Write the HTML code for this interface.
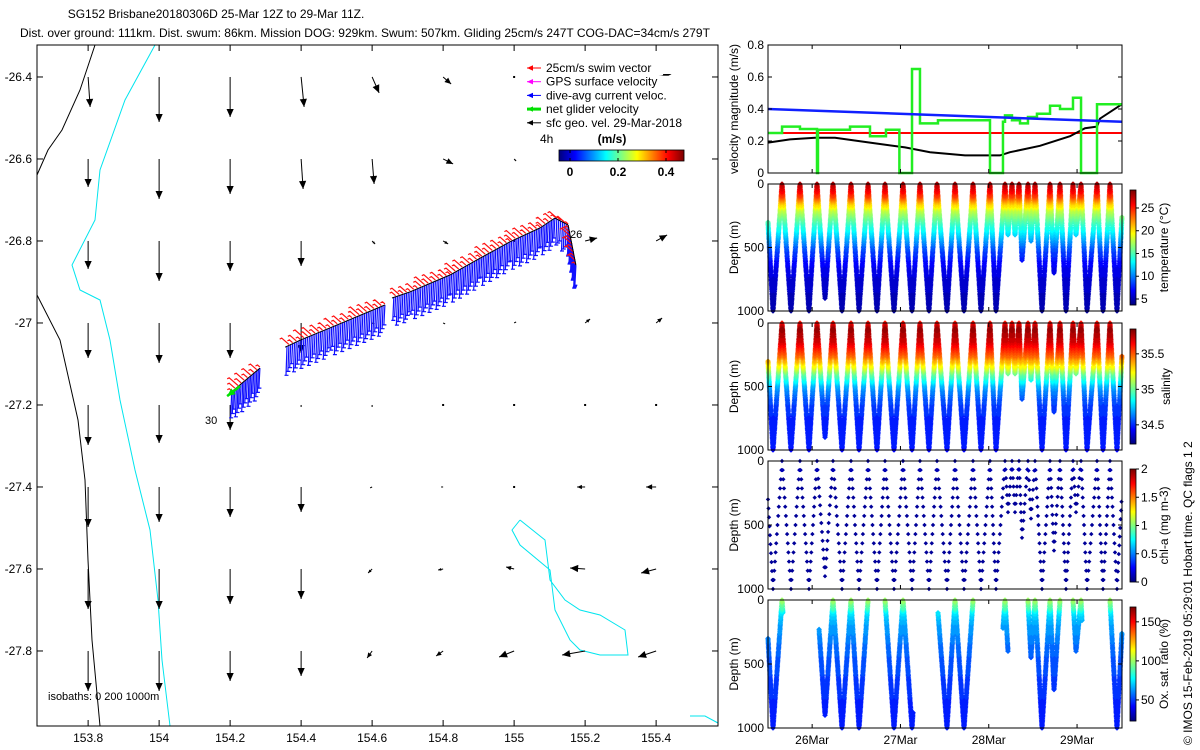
<!DOCTYPE html>
<html><head><meta charset="utf-8"><style>
html,body{margin:0;padding:0;background:#fff}
svg{display:block;font-family:"Liberation Sans",sans-serif}
</style></head><body>
<svg id="fig" width="1200" height="750" viewBox="0 0 1200 750" xmlns="http://www.w3.org/2000/svg">
<rect width="1200" height="750" fill="#fff"/>
<text x="216" y="18" font-size="12" text-anchor="middle">SG152 Brisbane20180306D 25-Mar 12Z to 29-Mar 11Z.</text>
<text x="20" y="37" font-size="12">Dist. over ground: 111km. Dist. swum: 86km. Mission DOG: 929km. Swum: 507km. Gliding 25cm/s 247T COG-DAC=34cm/s 279T</text>
<g id="map"></g>
<g id="vel"></g>
<g id="temp"></g>
<g id="sal"></g>
<g id="chl"></g>
<g id="oxy"></g>
<text transform="translate(1192,745) rotate(-90)" font-size="12">© IMOS 15-Feb-2019 05:29:01  Hobart time. QC flags 1  2</text>
</svg>
<script>
// ===== DATA =====
const mapLonTicks=[153.8,154,154.2,154.4,154.6,154.8,155,155.2,155.4];
const mapLatTicks=[-26.4,-26.6,-26.8,-27,-27.2,-27.4,-27.6,-27.8];
const geoLons=[153.8,154.0,154.2,154.4,154.6,154.8,155.0,155.2,155.4];
const geoLats=[-26.4,-26.6,-26.8,-27.0,-27.2,-27.4,-27.6,-27.8];
const geoU=[[0.02,0.00,0.00,0.03,0.07,0.08,0.0,0.0,0.15],
[0.0,0.0,0.0,0.02,0.02,0.1,0.02,0.0,0.0],
[0.0,0.0,0.0,0.0,0.03,0.05,0.0,0.12,0.11],
[0.0,0.0,0.0,0.0,0.02,0.02,0.02,0.05,0.06],
[0.0,0.0,0.0,0.0,0.0,0.0,0.0,0.0,0.0],
[0.0,0.0,0.0,0.0,-0.02,-0.02,0.0,-0.08,-0.10],
[0.0,0.0,0.0,0.0,-0.04,-0.05,-0.08,-0.15,-0.15],
[0.0,0.0,0.0,0.0,-0.05,-0.07,-0.15,-0.23,-0.18]];
const geoV=[[-0.3,-0.45,-0.4,-0.3,-0.16,-0.07,0.0,0.0,0.03],
[-0.28,-0.4,-0.35,-0.3,-0.25,-0.05,-0.02,0.0,0.0],
[-0.28,-0.4,-0.3,-0.25,-0.03,-0.03,0.0,0.03,0.06],
[-0.35,-0.4,-0.35,-0.3,-0.01,-0.01,0.01,0.04,0.05],
[-0.4,-0.38,-0.25,-0.02,-0.02,-0.01,0.0,0.0,0.0],
[-0.4,-0.35,-0.3,-0.25,-0.01,0.0,0.0,0.0,0.0],
[-0.4,-0.4,-0.35,-0.3,-0.04,-0.01,0.02,0.01,-0.04],
[-0.4,-0.4,-0.3,-0.25,-0.07,-0.05,-0.06,-0.04,-0.06]];
const trackLon=[155.174,155.152,155.115,155.073,154.988,154.904,154.819,154.707,154.656,154.636,154.481,154.397,154.355,154.284,154.200];
const trackLat=[-26.859,-26.761,-26.744,-26.768,-26.802,-26.842,-26.883,-26.924,-26.939,-26.956,-27.012,-27.042,-27.059,-27.110,-27.171];
const trackGap=[0,0,0,0,0,0,0,0,1,0,0,0,1,0];
const coastX=[95,80,62,48,37];const coastY=[45,90,130,150,175];
const coast2X=[37,60,78,85,88,92,100];const coast2Y=[295,340,420,480,560,640,726];
const iso200X=[155,125,100,95,72,80,100,110,120,135,150,158,162,170];
const iso200Y=[45,100,170,220,265,290,300,340,400,470,530,600,660,726];
const isoLoopX=[520,545,550,565,580,600,625,628,600,580,570,555,550,520,512,520];
const isoLoopY=[520,540,580,600,610,615,630,655,655,650,640,610,570,545,530,520];

const dayTicks=[26,27,28,29];const dayLabels=["26Mar","27Mar","28Mar","29Mar"];
const velTicks=[0,0.2,0.4,0.6,0.8];
const velBlueT=[25.5,29.51];const velBlueV=[0.40,0.32];
const velRedT=[25.5,29.51];const velRedV=[0.25,0.25];
const velBlackT=[25.5,25.749,26.032,26.259,26.655,27.052,27.335,27.731,28.127,28.241,28.580,28.920,29.090,29.226,29.260,29.509];
const velBlackV=[0.19,0.21,0.22,0.22,0.19,0.16,0.13,0.11,0.11,0.13,0.17,0.23,0.28,0.29,0.34,0.43];
const velGreenT=[25.5,25.659,25.862,26.055,26.066,26.236,26.429,26.655,26.836,26.988,27.0,27.131,27.221,27.425,28.014,28.161,28.184,28.263,28.354,28.444,28.546,28.694,28.807,28.954,29.045,29.226,29.509];
const velGreenV=[0.25,0.29,0.275,0.0,0.27,0.27,0.29,0.23,0.27,0.0,0.0,0.65,0.31,0.33,0.0,0.32,0.36,0.33,0.31,0.35,0.37,0.42,0.40,0.47,0.0,0.43,0.43];

const diveT=[25.5,25.557,25.659,25.760,25.862,25.964,26.055,26.146,26.236,26.338,26.440,26.531,26.633,26.734,26.825,26.927,27.029,27.131,27.221,27.323,27.414,27.527,27.618,27.720,27.822,27.912,28.014,28.082,28.184,28.218,28.263,28.297,28.343,28.377,28.444,28.478,28.524,28.603,28.694,28.739,28.807,28.875,28.954,28.988,29.045,29.113,29.226,29.294,29.373,29.452,29.509];
const diveD=[300,1000,0,1000,0,1000,0,900,0,1000,0,1000,0,1000,0,1000,0,1000,0,1000,0,1000,0,1000,0,1000,0,1000,0,400,0,400,0,600,0,450,0,1000,0,700,0,1000,0,400,0,1000,0,1000,0,1000,250];
const profDepth=[0,50,100,150,200,250,300,350,400,500,600,700,800,1000];
const profTemp=[27.5,26,24,21,18,16.5,15,13.5,12,9,7,6,5.5,4.5];
const profSal=[35.6,35.8,35.75,35.7,35.6,35.5,35.35,35.2,35.0,34.7,34.55,34.5,34.47,34.45];
const profOxy=[100,90,75,68,64,62,60,57,55,52,50,48,46,44];
const oxyStart=[25.5,26.078,26.825,27.425,28.161,28.444,28.954,29.373];
const oxyEnd=[25.67,26.633,27.142,27.822,28.218,28.807,29.056,29.509];

// ===== helpers =====
const NS="http://www.w3.org/2000/svg";
function mk(tag,parent,attrs){const e=document.createElementNS(NS,tag);for(const k in attrs)e.setAttribute(k,attrs[k]);parent.appendChild(e);return e;}
function jet(f){f=Math.max(0,Math.min(1,f));
 const r=Math.max(0,Math.min(1,1.5-Math.abs(4*f-3))),g=Math.max(0,Math.min(1,1.5-Math.abs(4*f-2))),b=Math.max(0,Math.min(1,1.5-Math.abs(4*f-1)));
 return `rgb(${Math.round(r*255)},${Math.round(g*255)},${Math.round(b*255)})`;}
function interp(xs,ys,x){if(x<=xs[0])return ys[0];for(let i=1;i<xs.length;i++){if(x<=xs[i]){const f=(x-xs[i-1])/(xs[i]-xs[i-1]);return ys[i-1]+f*(ys[i]-ys[i-1]);}}return ys[ys.length-1];}

// ===== MAP =====
const map=document.getElementById('map');
const MX0=37,MY0=45,MW=681,MH=681;
const mx=lon=>37+(lon-153.656)*355;
const my=lat=>45+(-26.322-lat)*410;
let e;
e=mk('polyline',map,{points:coastX.map((x,i)=>x+','+coastY[i]).join(' '),fill:'none',stroke:'#000','stroke-width':1});


e=mk('polyline',map,{points:coast2X.map((x,i)=>x+','+coast2Y[i]).join(' '),fill:'none',stroke:'#000','stroke-width':1});


e=mk('polyline',map,{points:iso200X.map((x,i)=>x+','+iso200Y[i]).join(' '),fill:'none',stroke:'#00e5ee','stroke-width':1});


e=mk('polyline',map,{points:isoLoopX.map((x,i)=>x+','+isoLoopY[i]).join(' '),fill:'none',stroke:'#00e5ee','stroke-width':1});


e=mk('polyline',map,{points:'690,716 705,716 718,723',fill:'none',stroke:'#00e5ee','stroke-width':1});



function arrow(g,x1,y1,x2,y2,col,w,hs,name){
 const gg=mk('g',g,{});
 
 
 mk('line',gg,{x1,y1,x2,y2,stroke:col,'stroke-width':w});
 const L=Math.hypot(x2-x1,y2-y1);if(L<0.5)return;
 const ux=(x2-x1)/L,uy=(y2-y1)/L,h=Math.min(hs,L*0.6);
 const bx=x2-ux*h,by=y2-uy*h,px=-uy*h*0.45,py=ux*h*0.45;
 mk('polygon',gg,{points:`${x2},${y2} ${bx+px},${by+py} ${bx-px},${by-py}`,fill:col});
}
for(let r=0;r<geoLats.length;r++)for(let c=0;c<geoLons.length;c++){
 const x=mx(geoLons[c]),y=my(geoLats[r]);
 const dx=geoU[r][c]*100,dy=-geoV[r][c]*100;
 if(Math.hypot(dx,dy)<2){const d=mk('rect',map,{x:x-1,y:y-1,width:2,height:2,fill:'#000'});continue;}
 arrow(map,x,y,x+dx,y+dy,'#000',1,8,'geo-velocity-arrow');
}
// track
const trk=mk('g',map,{});


let blueP='',redP='',blackP='';
for(let i=0;i<trackLon.length-1;i++){
 const x1=mx(trackLon[i]),y1=my(trackLat[i]),x2=mx(trackLon[i+1]),y2=my(trackLat[i+1]);
 if(trackGap[i]){continue;}
 blackP+=`M${x1},${y1}L${x2},${y2}`;
 const L=Math.hypot(x2-x1,y2-y1),n=Math.max(1,Math.round(L/2));
 for(let k=0;k<n;k++){const f=k/n,x=x1+f*(x2-x1),y=y1+f*(y2-y1);
  const bl=20+(k%4)*3;
  blueP+=`M${x.toFixed(1)},${y.toFixed(1)}l-1,${bl}`;
  blueP+=`M${(x-2.5).toFixed(1)},${(y+bl).toFixed(1)}h4`;
  if(k%2==0){const rl=3+((k*7)%9);
  redP+=`M${x.toFixed(1)},${(y-1).toFixed(1)}l${(-rl*0.8).toFixed(1)},${(-rl*0.7).toFixed(1)}l-2,1`;}}
}
e=mk('path',trk,{d:blueP,stroke:'#1010ff','stroke-width':1.2,fill:'none'});


e=mk('path',trk,{d:redP,stroke:'#ff1010','stroke-width':1.2,fill:'none'});


e=mk('path',trk,{d:blackP,stroke:'#000','stroke-width':1,fill:'none'});


arrow(trk,mx(trackLon[trackLon.length-1])+10,my(trackLat[trackLat.length-1])-7,mx(trackLon[trackLon.length-1])-3,my(trackLat[trackLat.length-1])+3,'#00e000',2.5,8,'net-glider-velocity-arrow');
e=mk('text',map,{x:570,y:238,'font-size':11});e.textContent='26';


e=mk('text',map,{x:205,y:424,'font-size':11});e.textContent='30';


e=mk('text',map,{x:48,y:700,'font-size':11});e.textContent='isobaths: 0   200   1000m';


// legend
const legC=['#ff0000','#ff00ff','#0000ff','#00e000','#000'];
const legT=['25cm/s swim vector','GPS surface velocity','dive-avg current veloc.','net glider velocity','sfc geo. vel. 29-Mar-2018'];
for(let i=0;i<5;i++){const y=68+i*13.7;
 const g=mk('g',map,{});
 mk('rect',g,{x:526,y:y-6,width:180,height:12,fill:'#fff'});
 arrow(g,541,y,527,y,legC[i],i==3?3:1,6,'legend-arrow');
 const t=mk('text',g,{x:546,y:y+4,'font-size':12});t.textContent=legT[i];}
e=mk('text',map,{x:540,y:143,'font-size':12});e.textContent='4h';


e=mk('text',map,{x:612,y:143,'font-size':12,'font-weight':'bold','text-anchor':'middle'});e.textContent='(m/s)';


const lcb=mk('g',map,{});
for(let i=0;i<125;i++)mk('rect',lcb,{x:559+i,y:150,width:1.2,height:11,fill:jet(i/124)});
mk('rect',lcb,{x:559,y:150,width:125,height:11,fill:'none',stroke:'#000','stroke-width':0.8});
[['0',570],['0.2',618],['0.4',666]].forEach(([s,x])=>{const t=mk('text',lcb,{x,y:176,'font-size':12,'font-weight':'bold','text-anchor':'middle'});t.textContent=s;mk('line',lcb,{x1:x,y1:150,x2:x,y2:153,stroke:'#000'});mk('line',lcb,{x1:x,y1:161,x2:x,y2:158,stroke:'#000'});});
e=mk('rect',map,{x:MX0,y:MY0,width:MW,height:MH,fill:'none',stroke:'#000','stroke-width':1});


mapLonTicks.forEach(v=>{const x=mx(v);mk('line',map,{x1:x,y1:726,x2:x,y2:720,stroke:'#000'});mk('line',map,{x1:x,y1:45,x2:x,y2:51,stroke:'#000'});
 const t=mk('text',map,{x,y:742,'font-size':12,'text-anchor':'middle'});t.textContent=String(v);
 });
mapLatTicks.forEach(v=>{const y=my(v);mk('line',map,{x1:37,y1:y,x2:43,y2:y,stroke:'#000'});mk('line',map,{x1:718,y1:y,x2:712,y2:y,stroke:'#000'});
 const t=mk('text',map,{x:32,y:y+4,'font-size':12,'text-anchor':'end'});t.textContent=String(v);
 });

// ===== RIGHT PANELS =====
const PX0=768,PX1=1122;
const px=t=>PX0+(t-25.5)*(PX1-PX0)/(29.509-25.5);
function frame(g,y0,y1,name){
 const r=mk('rect',g,{x:PX0,y:y0,width:PX1-PX0,height:y1-y0,fill:'none',stroke:'#000','stroke-width':1});
 
 dayTicks.forEach(d=>{const x=px(d);mk('line',g,{x1:x,y1:y1,x2:x,y2:y1-4,stroke:'#000'});mk('line',g,{x1:x,y1:y0,x2:x,y2:y0+4,stroke:'#000'});});
}
function ylab(g,y0,y1,txt,name){const t=mk('text',g,{transform:`translate(738,${(y0+y1)/2}) rotate(-90)`,'font-size':12,'text-anchor':'middle'});t.textContent=txt;}
const vel=document.getElementById('vel');const VY0=45,VY1=173;
const vy=v=>VY1-v/0.8*(VY1-VY0);
function vline(T,V,col,w,name,step){let pts=[];for(let i=0;i<T.length;i++){if(step&&i>0)pts.push(px(T[i])+','+vy(V[i-1]));pts.push(px(T[i])+','+vy(V[i]));}
 const l=mk('polyline',vel,{points:pts.join(' '),fill:'none',stroke:col,'stroke-width':w});}
vline(velRedT,velRedV,'#ff0000',2,'series-swim-speed');
vline(velBlackT,velBlackV,'#000',2,'series-geo-speed');
vline(velGreenT,velGreenV,'#22ee22',2.5,'series-net-glider-speed',true);
vline(velBlueT,velBlueV,'#1020ff',2.5,'series-dive-avg-current');
frame(vel,VY0,VY1,'velocity-axes-frame');
velTicks.forEach(v=>{const y=vy(v);mk('line',vel,{x1:PX0,y1:y,x2:PX0+4,y2:y,stroke:'#000'});mk('line',vel,{x1:PX1,y1:y,x2:PX1-4,y2:y,stroke:'#000'});
 const t=mk('text',vel,{x:764,y:y+4,'font-size':12,'text-anchor':'end'});t.textContent=String(v);});
ylab(vel,VY0,VY1,'velocity magnitude (m/s)','velocity-y-title');

function samples(step){const out=[];for(let i=0;i<diveT.length-1;i++){const d0=diveD[i],d1=diveD[i+1],t0=diveT[i],t1=diveT[i+1];
 const n=Math.max(1,Math.round(Math.abs(d1-d0)/step));for(let k=0;k<n;k++){const f=k/n;out.push([t0+f*(t1-t0),d0+f*(d1-d0)]);}}return out;}
function scatterPanel(gid,y0,y1,prof,vmin,vmax,step,filt,name,cb,ticks,cbLabel,sz){
 const g=document.getElementById(gid);const dy=d=>y0+d/1000*(y1-y0);
 const bins={};samples(step).forEach(([t,d],i)=>{if(filt&&!filt(t,i))return;const v=interp(profDepth,prof,d);const q=Math.round((v-vmin)/(vmax-vmin)*40);
  (bins[q]=bins[q]||[]).push(`M${px(t).toFixed(1)},${(dy(d)-sz).toFixed(1)}l${sz},${sz}l${-sz},${sz}l${-sz},${-sz}z`);});
 for(const q in bins){const p=mk('path',g,{d:bins[q].join(''),fill:jet(q/40)});}
 frame(g,y0,y1,gid+'-axes-frame');
 [0,500,1000].forEach(d=>{const y=dy(d);mk('line',g,{x1:PX0,y1:y,x2:PX0+4,y2:y,stroke:'#000'});mk('line',g,{x1:PX1,y1:y,x2:PX1-4,y2:y,stroke:'#000'});
  const t=mk('text',g,{x:764,y:y+4,'font-size':12,'text-anchor':'end'});t.textContent=String(d);});
 ylab(g,y0,y1,'Depth (m)','depth-y-title');
 const [c0,c1]=cb;const cg=mk('g',g,{});
 for(let i=0;i<c1-c0;i++)mk('rect',cg,{x:1130,y:c1-i-1,width:6,height:1.2,fill:jet(i/(c1-c0-1))});
 mk('rect',cg,{x:1130,y:c0,width:6,height:c1-c0,fill:'none',stroke:'#000','stroke-width':0.8});
 ticks.forEach(v=>{const y=c1-(v-vmin)/(vmax-vmin)*(c1-c0);mk('line',cg,{x1:1136,y1:y,x2:1139,y2:y,stroke:'#000'});
  const t=mk('text',cg,{x:1141,y:y+4,'font-size':12});t.textContent=String(v);});
 const t=mk('text',g,{transform:`translate(${gid=='sal'?1170:1168},${(c0+c1)/2}) rotate(-90)`,'font-size':12,'text-anchor':'middle'});t.textContent=cbLabel;
 return g;}
scatterPanel('temp',184,311,profTemp,3.68,28.95,10,null,'temperature-points',[190,305],[5,10,15,20,25],'temperature (°C)',2.8);
scatterPanel('sal',323,450,profSal,34.23,35.85,10,null,'salinity-points',[329,444],[34.5,35,35.5],'salinity',2.8);
const profChl=profDepth.map((d)=>d<150?0.12:0.05);
scatterPanel('chl',461,589,profChl,0,2,70,null,'chlorophyll-points',[469,582],[0,0.5,1,1.5,2],'chl-a (mg m-3)',2.2);
scatterPanel('oxy',600,728,profOxy,23,169,10,(t)=>oxyStart.some((s,i)=>t>=s&&t<=oxyEnd[i]),'oxygen-points',[607,721],[50,100,150],'Ox. sat. ratio (%)',2.8);
const oxy=document.getElementById('oxy');
dayTicks.forEach((d,i)=>{const t=mk('text',oxy,{x:px(d),y:744,'font-size':12,'text-anchor':'middle'});t.textContent=dayLabels[i];});
</script>
</body></html>
